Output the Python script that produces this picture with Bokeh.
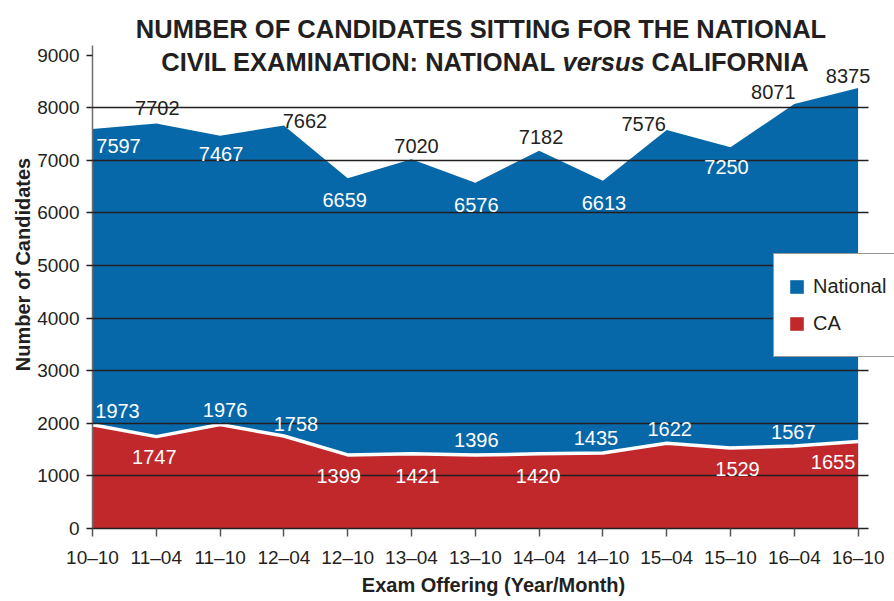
from bokeh.plotting import figure
from bokeh.models import (Range1d, FixedTicker, Label, Legend, LegendItem,
                          ColumnDataSource, Grid)
from bokeh.core.properties import value
from bokeh.embed import file_html
from bokeh.resources import INLINE

# ---------------- data ----------------
offerings = ["10–10", "11–04", "11–10", "12–04", "12–10", "13–04", "13–10",
             "14–04", "14–10", "15–04", "15–10", "16–04", "16–10"]
national = [7597, 7702, 7467, 7662, 6659, 7020, 6576, 7182, 6613, 7576, 7250, 8071, 8375]
california = [1973, 1747, 1976, 1758, 1399, 1421, 1396, 1420, 1435, 1622, 1529, 1567, 1655]
y_ticks = [0, 1000, 2000, 3000, 4000, 5000, 6000, 7000, 8000, 9000]
series_names = ["National", "CA"]

# ---------------- label placement (screen px, + = right / down) ----------------
nat_dx = [26, 1, 1, 21, -3, 5, 1, 2, 1, -23, -4, -21, -10]
nat_dy = [17, -15, 18, -5, 22, -13, 22, -14, 22, -6, 20, -12, -12]
nat_inside = [True, False, True, False, True, False, True, False, True, False, True, False, False]
ca_dx = [25, -2, 5, 12, -9, 6, 1, -1, -7, 3, 7, -1, -25]
ca_dy = [-14, 20, -15, -12, 21, 22, -15, 22, -15, -14, 21, -14, 21]

BLUE = "#0768a9"
RED = "#c1282b"
INK = "#231f20"
SANS = "Liberation Sans"

# ---------------- geometry ----------------
W, H = 894, 601
LEFT, BOTTOM = 92, 73
PX_PER_UNIT_X = 63.8
PX_PER_1000 = 52.59
frame_w = W - LEFT
frame_h = H - BOTTOM
x_end = frame_w / PX_PER_UNIT_X
y_end = frame_h / PX_PER_1000 * 1000
x_data_end = 12.163          # where the x axis line / grid lines stop
y_axis_top = 9184            # top of the drawn y axis line

xs = list(range(len(offerings)))
src = ColumnDataSource(dict(
    x=xs, nat=national, ca=california,
    nat_lab=[str(v) for v in national], ca_lab=[str(v) for v in california],
    nat_dx=nat_dx, nat_dy=nat_dy, ca_dx=ca_dx, ca_dy=ca_dy,
    nat_col=["white" if f else INK for f in nat_inside],
))

p = figure(width=W, height=H, output_backend="svg", toolbar_location=None, tools="",
           x_range=Range1d(0, x_end), y_range=Range1d(0, y_end),
           min_border_left=LEFT, min_border_right=0, min_border_top=0,
           min_border_bottom=BOTTOM)
p.outline_line_color = None
p.background_fill_color = "white"
p.border_fill_color = "white"

r_nat = p.varea(x="x", y1=0, y2="nat", source=src, fill_color=BLUE)
r_ca = p.varea(x="x", y1=0, y2="ca", source=src, fill_color=RED)
p.line(x="x", y="ca", source=src, line_color="white", line_width=3.5)

# ---------------- grid ----------------
p.xgrid.visible = False
grid_ticks = y_ticks[1:-1]
if "cross_bounds" in Grid.properties():
    p.ygrid.ticker = FixedTicker(ticks=grid_ticks)
    p.ygrid.cross_bounds = (0, x_data_end)
    p.ygrid.grid_line_color = INK
    p.ygrid.grid_line_width = 1.3
    p.ygrid.level = "guide"
else:
    p.ygrid.visible = False
    gl = p.segment(x0=[0] * len(grid_ticks), x1=[x_data_end] * len(grid_ticks),
                   y0=grid_ticks, y1=grid_ticks, line_color=INK, line_width=1.3)
    gl.level = "guide"

t1 = p.text(x="x", y="nat", text="nat_lab", source=src, x_offset="nat_dx", y_offset="nat_dy",
            text_color="nat_col", text_font=value(SANS), text_font_size="20px",
            text_align="center", text_baseline="middle")
t2 = p.text(x="x", y="ca", text="ca_lab", source=src, x_offset="ca_dx", y_offset="ca_dy",
            text_color="white", text_font=value(SANS), text_font_size="20px",
            text_align="center", text_baseline="middle")
t1.level = "annotation"
t2.level = "annotation"

# ---------------- axes ----------------
p.xaxis.ticker = FixedTicker(ticks=xs)
p.xaxis.bounds = (0, x_data_end)
p.xaxis.major_label_overrides = {i: s for i, s in enumerate(offerings)}
p.xaxis.axis_label = "Exam Offering (Year/Month)"
p.xaxis.axis_line_color = INK
p.xaxis.axis_line_width = 1.5
p.xaxis.major_tick_line_color = "#555555"
p.xaxis.major_tick_line_width = 1.5
p.xaxis.major_tick_out = 8
p.xaxis.major_tick_in = 0
p.xaxis.minor_tick_line_color = None
p.xaxis.major_label_standoff = 10
p.xaxis.axis_label_standoff = 3

p.yaxis.ticker = FixedTicker(ticks=y_ticks)
p.yaxis.bounds = (0, y_axis_top)
p.yaxis.axis_label = "Number of Candidates"
p.yaxis.axis_line_color = "#6d6e71"
p.yaxis.axis_line_width = 1.5
p.yaxis.major_tick_line_color = INK
p.yaxis.major_tick_line_width = 1.3
p.yaxis.major_tick_out = 6
p.yaxis.major_tick_in = 0
p.yaxis.minor_tick_line_color = None
p.yaxis.major_label_standoff = 7
p.yaxis.axis_label_standoff = 0

for ax in (p.xaxis, p.yaxis):
    ax.major_label_text_font = SANS
    ax.major_label_text_color = INK
    ax.major_label_text_font_size = "19px"
    ax.axis_label_text_font = SANS
    ax.axis_label_text_font_style = "bold"
    ax.axis_label_text_font_size = "20px"
    ax.axis_label_text_color = INK

# ---------------- legend ----------------
legend = Legend(items=[LegendItem(label=series_names[0], renderers=[r_nat]),
                       LegendItem(label=series_names[1], renderers=[r_ca])],
                location=(681, 171), margin=0, padding=14, spacing=0,
                glyph_width=17, glyph_height=17, label_standoff=8,
                label_height=37, label_width=140,
                label_text_font=SANS, label_text_font_size="20px",
                label_text_color=INK, border_line_color="#333333",
                border_line_width=1.5, background_fill_color="white",
                background_fill_alpha=1.0)
p.add_layout(legend)

# ---------------- title (screen px from frame bottom-left) ----------------
title_kw = dict(x_units="screen", y_units="screen", text_font=SANS, text_font_size="25.5px",
                text_font_style="bold", text_color=INK, text_baseline="alphabetic")
p.add_layout(Label(x=388.5, y=frame_h - 28, text="NUMBER OF CANDIDATES SITTING FOR THE NATIONAL",
                   text_align="center", **title_kw))
p.add_layout(Label(x=463, y=frame_h - 61, text="CIVIL EXAMINATION: NATIONAL",
                   text_align="right", **title_kw))
kw_it = dict(title_kw)
kw_it["text_font_style"] = "bold italic"
p.add_layout(Label(x=470, y=frame_h - 61, text="versus", text_align="left", **kw_it))
p.add_layout(Label(x=559, y=frame_h - 61, text="CALIFORNIA", text_align="left", **title_kw))

open("out.html", "w").write(file_html(p, INLINE))
